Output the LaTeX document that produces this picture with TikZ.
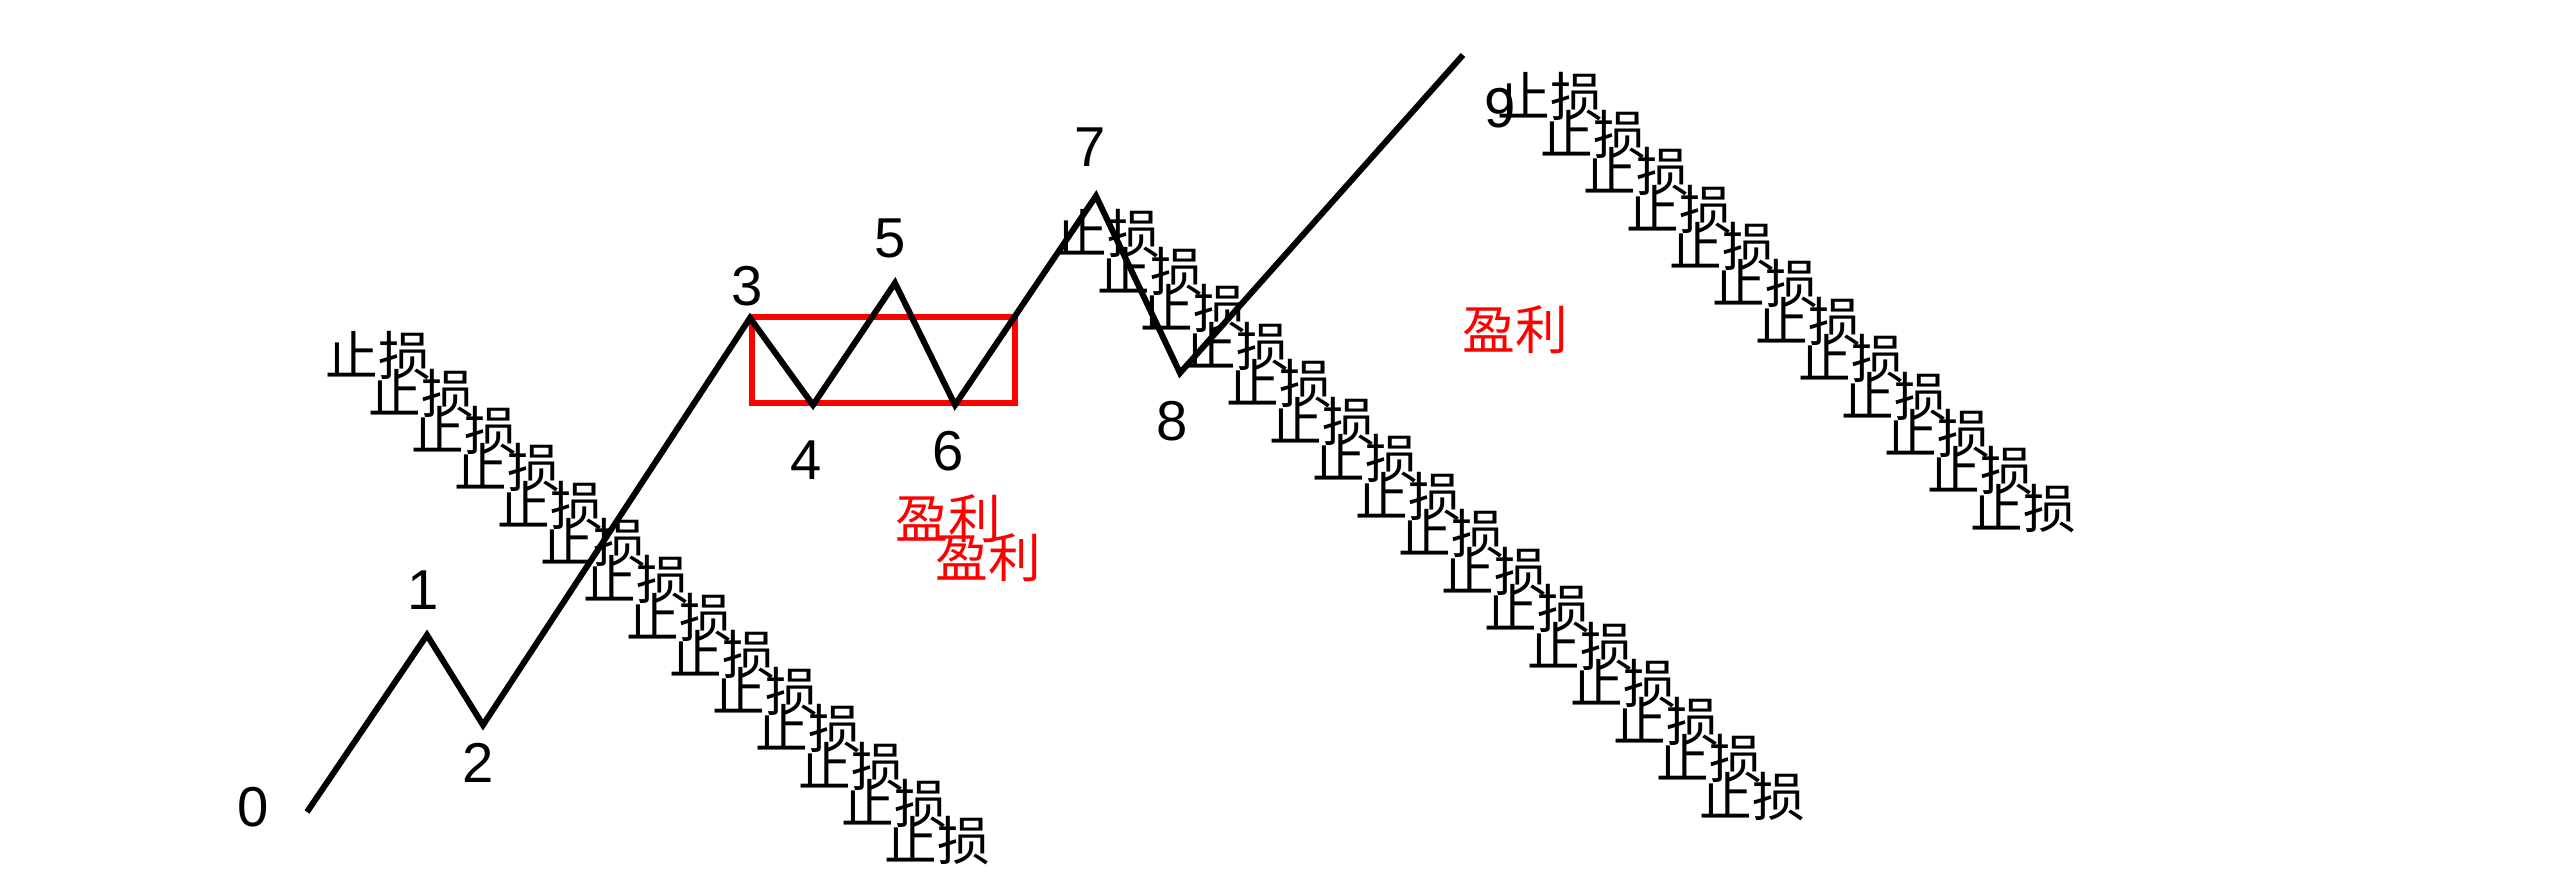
\documentclass[tikz,border=0pt]{standalone}
\usepackage{fontspec}
\setmainfont{Liberation Sans}
\newfontfamily\cjk{Noto Sans CJK SC}

\begin{document}
\begin{tikzpicture}[x=0.1mm,y=-0.1mm]

\tikzset{
  wave label/.style={
    inner sep=0pt,
    font=\fontsize{16}{18}\selectfont,
  },
  stoploss/.style={
    anchor=base west,
    inner sep=0pt,
    font=\cjk\fontsize{15}{18}\selectfont,
  },
  profit/.style={
    inner sep=0pt,
    text=red,
    font=\cjk\fontsize{15}{18}\selectfont,
  },
  wave line/.style={line width=0.6mm, line join=miter},
  range box/.style={draw=red, line width=0.6mm},
}

\useasboundingbox (0,0) rectangle (2560,895);

% Turning points of the wave
\coordinate (p0) at (307,812);
\coordinate (p1) at (427,635);
\coordinate (p2) at (483,725);
\coordinate (p3) at (750,318);
\coordinate (p4) at (813,405);
\coordinate (p5) at (895,283);
\coordinate (p6) at (955,405);
\coordinate (p7) at (1096,196);
\coordinate (p8) at (1180,373);
\coordinate (p9) at (1463,55);

% Range box 3-6
\draw[range box] (752,317) rectangle (1015,403);

% Stop-loss steps (left, middle, right)
\foreach \i in {0,...,13}
  \node[stoploss] (sa\i) at ({325+43*\i},{376+37.3*\i}) {止损};
\foreach \i in {0,...,15}
  \node[stoploss] (sb\i) at ({1054+43*\i},{254+37.5*\i}) {止损};
\foreach \i in {0,...,11}
  \node[stoploss] (sc\i) at ({1497+43*\i},{117+37.4*\i}) {止损};

% Profit labels
\node[profit] (pa) at (948,519) {盈利};
\node[profit] (pb) at (988,558) {盈利};
\node[profit] (pc) at (1515,330) {盈利};

% Wave
\draw[wave line] (p0) -- (p1) -- (p2) -- (p3) -- (p4) -- (p5)
  -- (p6) -- (p7) -- (p8) -- (p9);

% Wave labels
\node[wave label] (n0) at (253,807) {0};
\node[wave label] (n1) at (423,590) {1};
\node[wave label] (n2) at (478,763) {2};
\node[wave label] (n3) at (747,286) {3};
\node[wave label] (n4) at (806,460) {4};
\node[wave label] (n5) at (890,238) {5};
\node[wave label] (n6) at (948,451) {6};
\node[wave label] (n7) at (1090,147) {7};
\node[wave label] (n8) at (1172,421) {8};
\node[wave label] (n9) at (1500,108) {9};

\end{tikzpicture}
\end{document}
